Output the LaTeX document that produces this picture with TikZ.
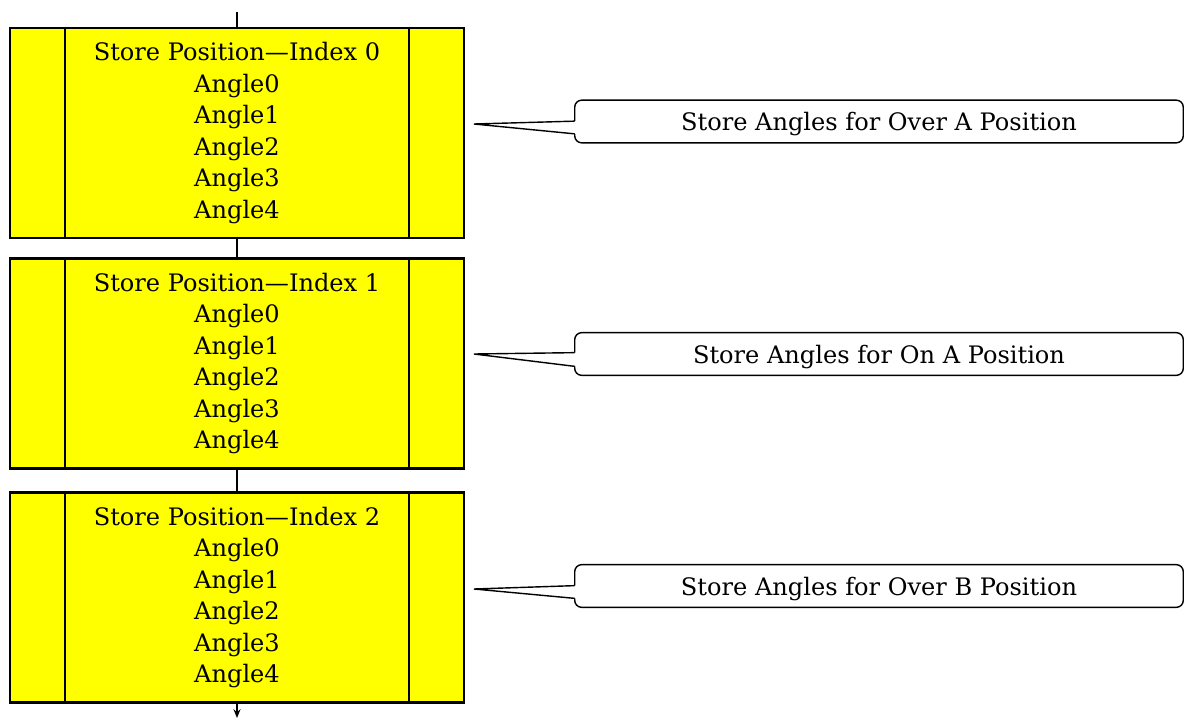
\documentclass[tikz,border=0pt]{standalone}
\usepackage{fontspec}
\setmainfont{DejaVu Serif}
\usetikzlibrary{arrows.meta, positioning}

\definecolor{boxyellow}{RGB}{255,255,0}

\tikzset{
	storebox/.style={draw, line width=1.6pt, fill=boxyellow, minimum width=9.08cm, minimum height=4.2cm, align=center, inner sep=0pt, font=\fontsize{13.7}{17.9}\selectfont},
	flowline/.style={line width=0.8pt},
	notebox/.style={minimum width=12.16cm, minimum height=0.84cm, inner sep=0pt, text depth=0pt, font=\fontsize{13.7}{16}\selectfont},
	noteline/.style={line width=0.8pt}
}

\begin{document}
\begin{tikzpicture}[x=0.02cm, y=-0.02cm]
	\useasboundingbox (0,0) rectangle (1184,720);
	% 三个存储框
	\node[storebox] (box0) at (237,133) {Store Position---Index 0\\Angle0\\Angle1\\Angle2\\Angle3\\Angle4};
	\node[storebox] (box1) at (237,363.5) {Store Position---Index 1\\Angle0\\Angle1\\Angle2\\Angle3\\Angle4};
	\node[storebox] (box2) at (237,597.5) {Store Position---Index 2\\Angle0\\Angle1\\Angle2\\Angle3\\Angle4};
	% 框内竖线
	\draw[flowline] ([xshift=-3.44cm]box0.north) -- ([xshift=-3.44cm]box0.south);
	\draw[flowline] ([xshift=3.44cm]box0.north) -- ([xshift=3.44cm]box0.south);
	\draw[flowline] ([xshift=-3.44cm]box1.north) -- ([xshift=-3.44cm]box1.south);
	\draw[flowline] ([xshift=3.44cm]box1.north) -- ([xshift=3.44cm]box1.south);
	\draw[flowline] ([xshift=-3.44cm]box2.north) -- ([xshift=-3.44cm]box2.south);
	\draw[flowline] ([xshift=3.44cm]box2.north) -- ([xshift=3.44cm]box2.south);
	% 流程线
	\coordinate (start) at (237,12);
	\coordinate (finish) at (237,718);
	\draw[flowline] (start) -- (box0.north);
	\draw[flowline] (box0.south) -- (box1.north);
	\draw[flowline] (box1.south) -- (box2.north);
	\draw[flowline, -{Stealth[length=5pt, width=4pt]}] (box2.south) -- (finish);
	% 说明框
	\node[notebox] (note0) at (879,121.5) {Store Angles for Over A Position};
	\node[notebox] (note1) at (879,354) {Store Angles for On A Position};
	\node[notebox] (note2) at (879,586) {Store Angles for Over B Position};
	\coordinate (tip0) at (474,124);
	\coordinate (tip1) at (474,354);
	\coordinate (tip2) at (474,589);
	% 圆角外框，再画尖角
	\draw[noteline, rounded corners=4pt] ([yshift=-0.42cm]note0.north west) -- (note0.north west) -- (note0.north east) -- (note0.south east) -- (note0.south west) -- ([yshift=0.18cm]note0.south west);
	\draw[noteline] ([yshift=-0.42cm]note0.north west) -- (tip0) -- ([yshift=0.18cm]note0.south west);
	\draw[noteline, rounded corners=4pt] ([yshift=-0.4cm]note1.north west) -- (note1.north west) -- (note1.north east) -- (note1.south east) -- (note1.south west) -- ([yshift=0.18cm]note1.south west);
	\draw[noteline] ([yshift=-0.4cm]note1.north west) -- (tip1) -- ([yshift=0.18cm]note1.south west);
	\draw[noteline, rounded corners=4pt] ([yshift=-0.42cm]note2.north west) -- (note2.north west) -- (note2.north east) -- (note2.south east) -- (note2.south west) -- ([yshift=0.18cm]note2.south west);
	\draw[noteline] ([yshift=-0.42cm]note2.north west) -- (tip2) -- ([yshift=0.18cm]note2.south west);
\end{tikzpicture}
\end{document}
